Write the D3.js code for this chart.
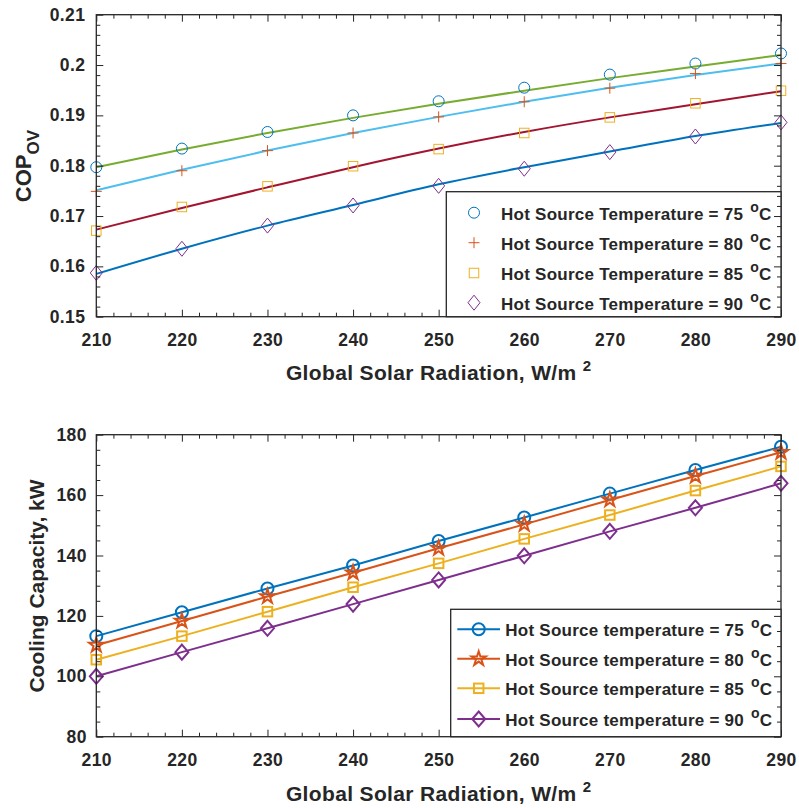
<!DOCTYPE html>
<html><head><meta charset="utf-8">
<script src="https://cdn.jsdelivr.net/npm/d3@7"></script>
<style>
body{margin:0;background:#fff}
svg text{font-family:"Liberation Sans",Arial,Helvetica,sans-serif;font-weight:bold;fill:#262626}
</style></head><body><svg id="chart" width="799" height="808"></svg>
<script>
// Global solar radiation, W/m2
const radiation = [210, 220, 230, 240, 250, 260, 270, 280, 290];
const hotSourceTemps = [75, 80, 85, 90];

// Overall COP (markers)
const cop75 = [0.1797, 0.1834, 0.1867, 0.1900, 0.1928, 0.1955, 0.1981, 0.2003, 0.2023];
const cop80 = [0.1749, 0.1790, 0.1830, 0.1865, 0.1897, 0.1927, 0.1954, 0.1983, 0.2003];
const cop85 = [0.1671, 0.1718, 0.1759, 0.1799, 0.1833, 0.1865, 0.1896, 0.1924, 0.1949];
const cop90 = [0.1587, 0.1635, 0.1681, 0.1721, 0.1760, 0.1794, 0.1827, 0.1858, 0.1886];

// Overall COP trend curves
const copFit75 = [0.1797, 0.1832, 0.1865, 0.1895, 0.1923, 0.1949, 0.1974, 0.1997, 0.2020];
const copFit80 = [0.1751, 0.1792, 0.1830, 0.1865, 0.1897, 0.1927, 0.1955, 0.1980, 0.2003];
const copFit85 = [0.1673, 0.1716, 0.1757, 0.1797, 0.1834, 0.1867, 0.1896, 0.1922, 0.1948];
const copFit90 = [0.1585, 0.1635, 0.1681, 0.1722, 0.1763, 0.1797, 0.1828, 0.1859, 0.1885];

// Cooling capacity, kW
const cap75 = [113.3, 121.2, 129.1, 136.7, 144.8, 152.6, 160.5, 168.3, 176.0];
const cap80 = [110.3, 118.3, 126.4, 134.3, 142.4, 150.3, 158.4, 166.3, 174.2];
const cap85 = [105.5, 113.3, 121.4, 129.5, 137.4, 145.5, 153.4, 161.5, 169.5];
const cap90 = [100.0, 108.0, 115.9, 123.9, 131.9, 139.9, 148.0, 155.8, 163.9];

// Axis ticks and labels
const xTicks = [210, 220, 230, 240, 250, 260, 270, 280, 290];
const xTickLabels = ["210", "220", "230", "240", "250", "260", "270", "280", "290"];
const copTicks = [0.15, 0.16, 0.17, 0.18, 0.19, 0.20, 0.21];
const copTickLabels = ["0.15", "0.16", "0.17", "0.18", "0.19", "0.2", "0.21"];
const capTicks = [80, 100, 120, 140, 160, 180];
const capTickLabels = ["80", "100", "120", "140", "160", "180"];

const AX = "#262626";
const svg = d3.select("#chart");

// marker path builders
function diamondPath(hw, hh) {
  return `M0,${-hh}L${hw},0L0,${hh}L${-hw},0Z`;
}
function starPath(R) {
  const r = R * 0.382, pts = [];
  for (let i = 0; i < 10; i++) {
    const a = -Math.PI / 2 + i * Math.PI / 5, rr = i % 2 ? r : R;
    pts.push([rr * Math.cos(a), rr * Math.sin(a)]);
  }
  return "M" + pts.map(p => p[0].toFixed(2) + "," + p[1].toFixed(2)).join("L") + "Z";
}
function drawMarker(g, kind, x, y, color, sw, big) {
  let el;
  if (kind === "circle") {
    el = g.append("circle").attr("cx", x).attr("cy", y).attr("r", big ? 6 : 5.5);
  } else if (kind === "plus") {
    el = g.append("path").attr("d", `M${x - 5.5},${y}H${x + 5.5}M${x},${y - 5.5}V${y + 5.5}`);
  } else if (kind === "square") {
    const s = 9.5;
    el = g.append("rect").attr("x", x - s / 2).attr("y", y - s / 2).attr("width", s).attr("height", s);
  } else if (kind === "diamond") {
    el = g.append("path").attr("d", diamondPath(big ? 6.5 : 6, 7.5)).attr("transform", `translate(${x},${y})`);
  } else if (kind === "star") {
    el = g.append("path").attr("d", starPath(7.5)).attr("transform", `translate(${x},${y})`);
  }
  el.attr("fill", "none").attr("stroke", color).attr("stroke-width", sw);
}

// axis frame with inward major/minor ticks on all four sides
function drawAxes(g, x, y, yTicks, yLabels, yMinor, yPad, sides) {
  const [x0, x1] = x.range(), [y0, y1] = y.range();
  const xMinor = d3.range(210, 291, 2).filter(v => v % 10 !== 0);
  const put = (axis, tx, ty) => {
    const a = g.append("g").attr("transform", `translate(${tx},${ty})`).call(axis);
    a.select(".domain").remove();
    a.selectAll("line").attr("stroke", AX).attr("stroke-width", 1);
    return a;
  };
  if (sides.includes("b")) {
    const xb = put(d3.axisBottom(x).tickValues(xTicks).tickSize(-7).tickPadding(16.5)
      .tickFormat((d, i) => xTickLabels[i]), 0, y0);
    xb.selectAll("text").attr("font-size", 17.5).attr("fill", AX).attr("dy", "0.71em")
      .attr("letter-spacing", 0.4);
    put(d3.axisBottom(x).tickValues(xMinor).tickSize(-4).tickFormat(""), 0, y0);
  }
  if (sides.includes("t")) {
    put(d3.axisTop(x).tickValues(xTicks).tickSize(-7).tickFormat(""), 0, y1);
    put(d3.axisTop(x).tickValues(xMinor).tickSize(-4).tickFormat(""), 0, y1);
  }
  if (sides.includes("l")) {
    const yl = put(d3.axisLeft(y).tickValues(yTicks).tickSize(-7).tickPadding(yPad)
      .tickFormat((d, i) => yLabels[i]), x0, 0);
    yl.selectAll("text").attr("font-size", 17.5).attr("fill", AX).attr("letter-spacing", 0.4);
    put(d3.axisLeft(y).tickValues(yMinor).tickSize(-4).tickFormat(""), x0, 0);
  }
  if (sides.includes("r")) {
    put(d3.axisRight(y).tickValues(yTicks).tickSize(-7).tickFormat(""), x1, 0);
    put(d3.axisRight(y).tickValues(yMinor).tickSize(-4).tickFormat(""), x1, 0);
  }
}

function frame(g, x, y) {
  const [x0, x1] = x.range(), [y0, y1] = y.range();
  g.append("rect").attr("x", x0).attr("y", y1).attr("width", x1 - x0).attr("height", y0 - y1)
    .attr("fill", "none").attr("stroke", AX).attr("stroke-width", 1.3);
}

function xTitle(g, cx, baseline) {
  const t = g.append("text").attr("x", cx).attr("y", baseline).attr("text-anchor", "middle")
    .attr("font-size", 21).attr("fill", AX).attr("letter-spacing", 0.35);
  t.append("tspan").text("Global Solar Radiation, W/m ");
  t.append("tspan").attr("font-size", 15).attr("dy", -9).text("2");
}

function legendLabel(g, x, y, txt) {
  const t = g.append("text").attr("x", x).attr("y", y).attr("font-size", 17).attr("fill", "#000")
    .attr("letter-spacing", 0.25);
  t.append("tspan").text(txt + " ");
  t.append("tspan").attr("font-size", 14).attr("dy", -8).attr("dx", 2).text("o");
  t.append("tspan").attr("dy", 8).text("C");
}

// ---------- COP panel ----------
{
  const g = svg.append("g");
  const x = d3.scaleLinear().domain([210, 290]).range([96.3, 781]);
  const y = d3.scaleLinear().domain([0.15, 0.21]).range([316.7, 14.7]);
  const yMinor = d3.range(0, 31).map(i => +(0.15 + i * 0.002).toFixed(3))
    .filter(v => Math.abs(v * 100 - Math.round(v * 100)) > 1e-6);

  const fits = [copFit75, copFit80, copFit85, copFit90];
  const pts = [cop75, cop80, cop85, cop90];
  const lineColors = ["#77AC30", "#4DBEEE", "#A2142F", "#0072BD"];
  const markColors = ["#0072BD", "#D95319", "#EDB120", "#7E2F8E"];
  const kinds = ["circle", "plus", "square", "diamond"];

  const line = d3.line().x((d, i) => x(radiation[i])).y(d => y(d)).curve(d3.curveMonotoneX);
  fits.forEach((f, k) => {
    g.append("path").datum(f).attr("d", line).attr("fill", "none")
      .attr("stroke", lineColors[k]).attr("stroke-width", 2);
  });
  pts.forEach((s, k) => {
    s.forEach((v, i) => drawMarker(g, kinds[k], x(radiation[i]), y(v), markColors[k], 1, false));
  });

  drawAxes(g, x, y, copTicks, copTickLabels, yMinor, 11, "btl");
  frame(g, x, y);

  // legend
  const lg = g.append("g");
  lg.append("rect").attr("x", 446.3).attr("y", 191.7).attr("width", 781 - 446.3).attr("height", 316.7 - 191.7)
    .attr("fill", "#fff").attr("stroke", AX).attr("stroke-width", 1.3);
  const rows = [212.7, 242.7, 273, 302.7];
  hotSourceTemps.forEach((tC, k) => {
    drawMarker(lg, kinds[k], 474, rows[k], markColors[k], 1, false);
    legendLabel(lg, 501, rows[k] + 7, `Hot Source Temperature = ${tC}`);
  });
  drawAxes(g, x, y, copTicks, copTickLabels, yMinor, 11, "r");

  xTitle(g, 438.7, 380);
  const yt = g.append("text").attr("transform", "translate(31,166) rotate(-90)")
    .attr("text-anchor", "middle").attr("font-size", 22).attr("fill", AX);
  yt.append("tspan").text("COP");
  yt.append("tspan").attr("font-size", 17).attr("dy", 8).text("OV");
}

// ---------- Cooling capacity panel ----------
{
  const g = svg.append("g");
  const x = d3.scaleLinear().domain([210, 290]).range([96.3, 781]);
  const y = d3.scaleLinear().domain([80, 180]).range([736.7, 434.7]);
  const yMinor = d3.range(80, 181, 5).filter(v => v % 20 !== 0);

  const series = [cap75, cap80, cap85, cap90];
  const colors = ["#0072BD", "#D95319", "#EDB120", "#7E2F8E"];
  const kinds = ["circle", "star", "square", "diamond"];
  const line = d3.line().x((d, i) => x(radiation[i])).y(d => y(d));

  series.forEach((s, k) => {
    g.append("path").datum(s).attr("d", line).attr("fill", "none")
      .attr("stroke", colors[k]).attr("stroke-width", 2);
    s.forEach((v, i) => drawMarker(g, kinds[k], x(radiation[i]), y(v), colors[k], 2, true));
  });

  drawAxes(g, x, y, capTicks, capTickLabels, yMinor, 9.5, "btl");
  frame(g, x, y);

  const lg = g.append("g");
  lg.append("rect").attr("x", 450.7).attr("y", 609.3).attr("width", 781 - 450.7).attr("height", 736.7 - 609.3)
    .attr("fill", "#fff").attr("stroke", AX).attr("stroke-width", 1.3);
  const rows = [629.3, 658.7, 688.3, 719];
  hotSourceTemps.forEach((tC, k) => {
    lg.append("line").attr("x1", 457.3).attr("x2", 500).attr("y1", rows[k]).attr("y2", rows[k])
      .attr("stroke", colors[k]).attr("stroke-width", 2);
    drawMarker(lg, kinds[k], 478.7, rows[k], colors[k], 2, true);
    legendLabel(lg, 505.3, rows[k] + 7, `Hot Source temperature = ${tC}`);
  });
  drawAxes(g, x, y, capTicks, capTickLabels, yMinor, 9.5, "r");

  xTitle(g, 438.7, 801);
  g.append("text").attr("transform", "translate(44,586) rotate(-90)")
    .attr("text-anchor", "middle").attr("font-size", 21).attr("fill", AX)
    .text("Cooling Capacity, kW");
}
</script></body></html>
